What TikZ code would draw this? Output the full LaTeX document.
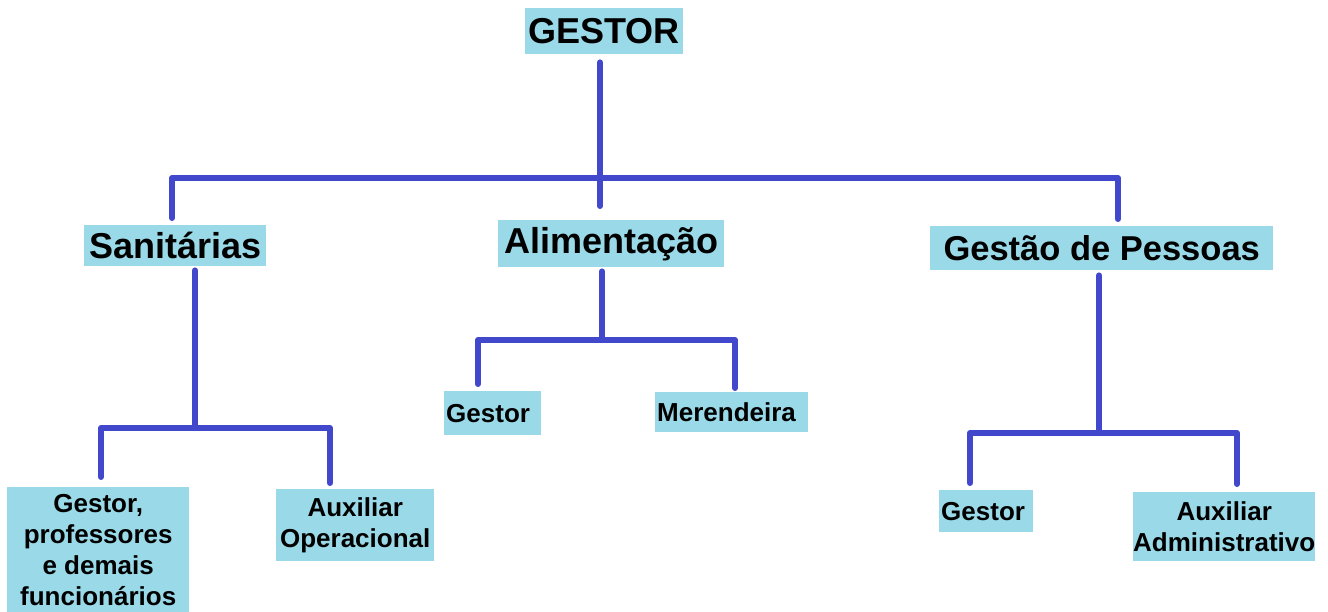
\documentclass[tikz,border=0pt]{standalone}
\usepackage{fontspec}
\setmainfont{Liberation Sans}
\definecolor{boxblue}{RGB}{154,217,232}
\definecolor{linkblue}{RGB}{66,72,204}
\tikzset{
  box/.style={fill=boxblue, anchor=north west, inner sep=0pt},
  big/.style={font=\fontsize{36}{40}\selectfont\bfseries},
  small/.style={font=\fontsize{26}{31}\selectfont\bfseries, align=center},
  leftbox/.style={inner xsep=2pt, align=left},
  link/.style={draw=linkblue, line width=6pt, line cap=round, line join=round}
}
\begin{document}
\begin{tikzpicture}[x=1pt, y=-1pt]
  \useasboundingbox (0,0) rectangle (1328,612);
  % top level
  \node[box, big, minimum width=158pt, minimum height=46pt] (gestor) at (525,8) {GESTOR};
  \node[box, big, minimum width=182pt, minimum height=41pt] (san) at (84,225) {Sanitárias};
  \node[box, big, minimum width=226pt, minimum height=47pt] (ali) at (498,220) {Alimentação};
  \node[box, big, minimum width=343pt, minimum height=44pt, font=\fontsize{34.5}{40}\selectfont\bfseries] (gp) at (930,226) {Gestão de Pessoas};
  % leaves
  \node[box, small, minimum width=182pt, minimum height=125pt] (sanA) at (7,487) {Gestor,\\professores\\e demais\\funcionários};
  \node[box, small, minimum width=158pt, minimum height=72pt] (sanB) at (276,489) {Auxiliar\\Operacional};
  \node[box, small, leftbox, text width=93pt, minimum height=44pt] (aliA) at (444,391) {Gestor};
  \node[box, small, leftbox, text width=149pt, minimum height=40pt] (aliB) at (655,392) {Merendeira};
  \node[box, small, leftbox, text width=90pt, minimum height=42pt] (gpA) at (939,490) {Gestor};
  \node[box, small, minimum width=182pt, minimum height=69pt] (gpB) at (1133,492) {Auxiliar\\Administrativo};
  % junctions
  \coordinate (jtop) at (600,178);
  \coordinate (barL) at (172,178);
  \coordinate (barR) at (1118,178);
  \coordinate (jsan) at (195,428);
  \coordinate (jsanL) at (101,428);
  \coordinate (jsanR) at (330,428);
  \coordinate (jali) at (602,340);
  \coordinate (jaliL) at (478,340);
  \coordinate (jaliR) at (735,340);
  \coordinate (jgp) at (1099,433);
  \coordinate (jgpL) at (970,433);
  \coordinate (jgpR) at (1237,433);
  % connectors
  \draw[link, shorten <=8pt] (gestor.south -| jtop) -- (jtop);
  \draw[link, shorten <=7pt, shorten >=7pt] (san.north -| barL) -- (barL) -- (barR) -- (gp.north -| barR);
  \draw[link, shorten >=14pt] (jtop) -- (ali.north -| jtop);
  \draw[link, shorten <=4pt] (san.south -| jsan) -- (jsan);
  \draw[link, shorten <=10pt, shorten >=6pt] (sanA.north -| jsanL) -- (jsanL) -- (jsanR) -- (sanB.north -| jsanR);
  \draw[link, shorten <=4pt] (ali.south -| jali) -- (jali);
  \draw[link, shorten <=7pt, shorten >=4pt] (aliA.north -| jaliL) -- (jaliL) -- (jaliR) -- (aliB.north -| jaliR);
  \draw[link, shorten <=5pt] (gp.south -| jgp) -- (jgp);
  \draw[link, shorten <=7pt, shorten >=8pt] (gpA.north -| jgpL) -- (jgpL) -- (jgpR) -- (gpB.north -| jgpR);
\end{tikzpicture}
\end{document}
